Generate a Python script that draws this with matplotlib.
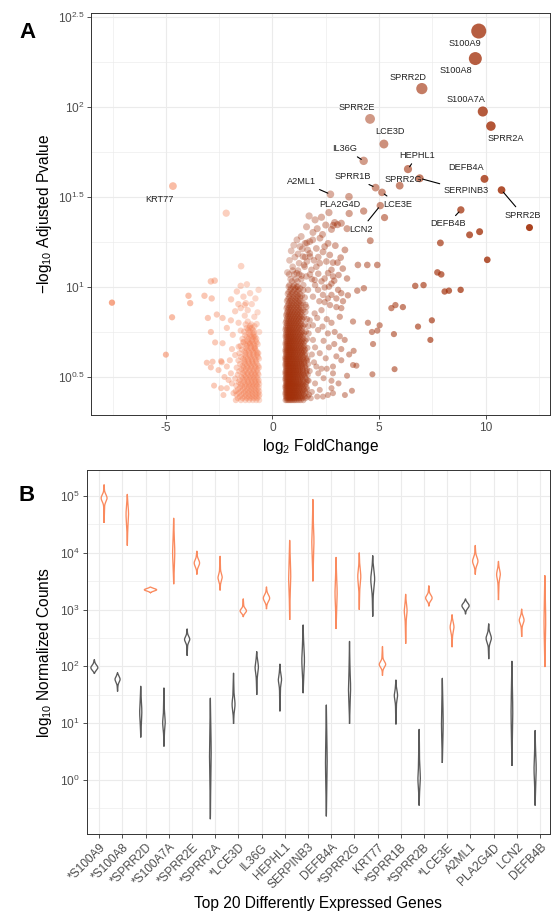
import numpy as np
import matplotlib
matplotlib.use("Agg")
import matplotlib.pyplot as plt
from matplotlib.ticker import FixedLocator, NullFormatter
from matplotlib.colors import to_rgb

plt.rcParams['font.family'] = ['Liberation Sans', 'DejaVu Sans']
plt.rcParams['mathtext.fontset'] = 'custom'
plt.rcParams['mathtext.rm'] = 'Liberation Sans'
plt.rcParams['mathtext.it'] = 'Liberation Sans:italic'
plt.rcParams['mathtext.bf'] = 'Liberation Sans:bold'

# ---------------- Panel A data: (log2 fold change, -log10 adjusted p) ----------------
labeled_genes = ["S100A9", "S100A8", "SPRR2D", "S100A7A", "SPRR2A", "SPRR2E", "LCE3D", "IL36G",
                 "HEPHL1", "SPRR2G", "SERPINB3", "DEFB4A", "SPRR2B", "A2ML1", "SPRR1B", "LCE3E",
                 "PLA2G4D", "LCN2", "DEFB4B", "KRT77"]
labeled_lfc = [9.68, 9.52, 7.01, 9.87, 10.25, 4.58, 5.23, 4.28,
               6.36, 5.97, 6.91, 9.95, 10.75, 2.72, 4.84, 5.14,
               3.59, 5.06, 8.84, -4.67]
labeled_nlp = [263, 185, 126, 94, 78, 85.5, 62, 50,
               45, 36.4, 40, 39.7, 34.4, 32.6, 35.5, 33.4,
               31.6, 28.2, 26.7, 36.2]

# sparse up-regulated genes
sparse_up = [(9.25, 19.4), (9.72, 20.2), (12.06, 21.3), (4.59, 18.0), (7.88, 17.5), (10.08, 14.1),
             (4.01, 13.2), (4.45, 13.2), (4.92, 13.2), (7.74, 12.0), (7.92, 11.7), (6.70, 10.1),
             (7.09, 10.2), (8.08, 9.4), (8.28, 9.5), (8.83, 9.6), (3.98, 9.5), (4.29, 9.8),
             (3.54, 8.95), (5.58, 7.6), (5.77, 7.9), (6.12, 7.7), (7.48, 6.5), (6.83, 6.0),
             (7.41, 5.06), (5.70, 5.45), (5.03, 6.1), (4.92, 5.7), (4.67, 5.6), (4.48, 6.3),
             (3.78, 6.4), (4.72, 4.8), (3.81, 4.4), (3.78, 3.67), (3.94, 3.64), (5.73, 3.48),
             (4.69, 3.26), (3.73, 2.64), (2.84, 3.3),
             (2.65, 25.8), (1.72, 24.7), (3.60, 25.5), (4.28, 26.3), (5.26, 24.2), (2.92, 22.7),
             (3.23, 22.5), (2.77, 20.8), (3.50, 21.0), (2.85, 21.9), (3.05, 22.1)]

# moderately dense up-regulated genes
mid_up = [(2.23, 18.6), (2.61, 17.4), (2.06, 16.3), (2.37, 15.6), (2.69, 15.0), (2.84, 13.6),
          (2.53, 13.8), (2.22, 13.5), (2.77, 12.4), (2.61, 11.9), (2.84, 11.4), (2.45, 11.1),
          (2.77, 10.4), (3.08, 9.6), (3.23, 9.2), (2.77, 9.0), (3.00, 8.6), (3.31, 8.3),
          (3.00, 7.7), (3.23, 7.6), (3.16, 6.8), (2.77, 6.3), (2.92, 5.6), (3.16, 5.3),
          (3.39, 5.06), (3.23, 4.5), (3.00, 4.1), (3.23, 3.9), (2.84, 3.6), (2.77, 3.0),
          (2.77, 2.73), (2.84, 2.56), (2.22, 2.67), (2.37, 2.45), (2.06, 3.6), (2.22, 4.27),
          (1.90, 5.06), (2.14, 5.74), (1.75, 6.5), (1.98, 7.1), (1.59, 7.7), (2.30, 7.4),
          (1.90, 8.8), (1.67, 9.6), (2.14, 9.6), (2.37, 9.0), (1.98, 10.9), (1.59, 11.4),
          (2.30, 10.7), (1.83, 12.4), (1.51, 12.9), (2.06, 12.9), (1.43, 14.7), (1.75, 15.3),
          (1.75, 17.8), (1.53, 17.4), (1.29, 16.7), (1.61, 17.5), (1.89, 18.2), (1.53, 14.6),
          (1.76, 14.7), (1.48, 13.2), (1.14, 11.9), (1.37, 11.5), (1.76, 11.7), (1.14, 10.0),
          (1.45, 10.2), (1.70, 3.0), (1.85, 2.6), (2.00, 2.9), (2.15, 3.3), (2.40, 3.1),
          (2.55, 3.5), (2.50, 4.0), (2.65, 4.6), (2.40, 5.0), (2.60, 5.5), (2.35, 6.0),
          (2.55, 6.6), (2.10, 6.7), (1.85, 4.2), (2.00, 4.6), (1.70, 5.5), (1.90, 6.1),
          (2.45, 8.2), (2.70, 7.9), (2.60, 8.6), (2.20, 8.3), (1.80, 2.4), (2.10, 2.45),
          (2.60, 2.5), (1.95, 3.8), (2.30, 3.5), (1.65, 4.0), (1.75, 3.4), (2.90, 4.8),
          (3.50, 3.2), (3.10, 2.9), (3.40, 2.5), (3.60, 4.2),
          (0.70, 12.0), (0.95, 12.9), (1.25, 13.5), (0.80, 14.0), (1.05, 14.6), (1.62, 13.8),
          (0.88, 15.8), (1.20, 15.2), (1.40, 16.2), (1.00, 17.0), (1.65, 16.0), (1.95, 14.0),
          (2.15, 14.6), (2.45, 16.7), (1.35, 19.0), (1.15, 18.2), (1.90, 20.0), (2.35, 19.5),
          (2.10, 21.0), (1.60, 21.5), (2.50, 22.0), (2.00, 23.5), (2.30, 24.3), (1.85, 11.0),
          (2.15, 11.8), (2.00, 10.2), (2.45, 9.9), (2.65, 10.0), (2.90, 10.8), (3.10, 11.6),
          (3.30, 12.6), (3.20, 14.5), (3.50, 11.1), (3.05, 13.6), (3.40, 16.0), (2.95, 16.9)]

# dense up-regulated genes: -log10 padj -> list of log2 fold changes
dense_up = {
    2.34: [0.61, 0.66, 0.72, 0.77, 0.83, 0.88, 0.94, 1.01, 1.07, 1.15, 1.24, 1.33, 1.45],
    2.40: [0.64, 0.69, 0.75, 0.80, 0.86, 0.91, 0.98, 1.04, 1.11, 1.20, 1.29, 1.40, 1.55],
    2.45: [0.63, 0.68, 0.74, 0.80, 0.85, 0.91, 0.97, 1.04, 1.11, 1.19, 1.28, 1.39, 1.52, 1.66],
    2.51: [0.61, 0.67, 0.72, 0.78, 0.83, 0.89, 0.95, 1.02, 1.09, 1.16, 1.25, 1.35, 1.47, 1.72],
    2.57: [0.60, 0.65, 0.70, 0.76, 0.82, 0.87, 0.93, 1.00, 1.06, 1.13, 1.22, 1.31, 1.42, 1.58],
    2.63: [0.63, 0.68, 0.74, 0.79, 0.85, 0.92, 0.99, 1.05, 1.13, 1.21, 1.30, 1.41, 1.55],
    2.69: [0.62, 0.67, 0.73, 0.78, 0.84, 0.90, 0.96, 1.02, 1.09, 1.17, 1.26, 1.36, 1.48, 1.63],
    2.76: [0.60, 0.65, 0.70, 0.76, 0.81, 0.87, 0.93, 1.00, 1.07, 1.14, 1.23, 1.33, 1.44, 1.60],
    2.82: [0.61, 0.66, 0.71, 0.77, 0.83, 0.89, 0.95, 1.03, 1.10, 1.18, 1.27, 1.38, 1.51],
    2.88: [0.64, 0.69, 0.74, 0.80, 0.86, 0.92, 0.99, 1.06, 1.14, 1.22, 1.32, 1.43, 1.57],
    2.95: [0.63, 0.69, 0.75, 0.80, 0.86, 0.92, 0.99, 1.06, 1.14, 1.23, 1.33, 1.46, 1.60],
    3.02: [0.61, 0.67, 0.72, 0.78, 0.84, 0.90, 0.97, 1.04, 1.12, 1.21, 1.31, 1.43, 1.65],
    3.09: [0.60, 0.65, 0.71, 0.77, 0.83, 0.89, 0.96, 1.03, 1.11, 1.20, 1.30, 1.42, 1.57],
    3.16: [0.63, 0.69, 0.75, 0.81, 0.87, 0.94, 1.01, 1.09, 1.18, 1.28, 1.39, 1.53],
    3.24: [0.62, 0.68, 0.74, 0.80, 0.86, 0.93, 1.00, 1.08, 1.16, 1.25, 1.36, 1.49, 1.66],
    3.31: [0.60, 0.65, 0.71, 0.77, 0.83, 0.90, 0.97, 1.04, 1.12, 1.21, 1.31, 1.43, 1.58],
    3.39: [0.61, 0.66, 0.72, 0.78, 0.84, 0.91, 0.98, 1.05, 1.13, 1.22, 1.32, 1.44, 1.59],
    3.47: [0.64, 0.70, 0.76, 0.82, 0.89, 0.96, 1.03, 1.11, 1.20, 1.30, 1.42, 1.62],
    3.55: [0.63, 0.69, 0.75, 0.81, 0.88, 0.95, 1.02, 1.10, 1.19, 1.29, 1.40, 1.54],
    3.63: [0.61, 0.67, 0.73, 0.79, 0.86, 0.93, 1.01, 1.09, 1.18, 1.28, 1.40, 1.55],
    3.72: [0.60, 0.66, 0.72, 0.78, 0.85, 0.92, 0.99, 1.07, 1.16, 1.26, 1.37, 1.50, 1.68],
    3.80: [0.63, 0.69, 0.76, 0.83, 0.90, 0.98, 1.06, 1.15, 1.25, 1.36, 1.50],
    3.89: [0.62, 0.68, 0.74, 0.81, 0.88, 0.96, 1.04, 1.13, 1.23, 1.34, 1.47, 1.62],
    3.98: [0.60, 0.65, 0.71, 0.78, 0.85, 0.92, 1.00, 1.09, 1.18, 1.29, 1.41, 1.58],
    4.07: [0.61, 0.67, 0.73, 0.80, 0.87, 0.94, 1.02, 1.11, 1.21, 1.32, 1.45],
    4.17: [0.64, 0.70, 0.77, 0.84, 0.91, 0.99, 1.08, 1.17, 1.27, 1.39, 1.52],
    4.27: [0.63, 0.70, 0.77, 0.84, 0.91, 0.99, 1.08, 1.18, 1.29, 1.41, 1.56],
    4.37: [0.61, 0.67, 0.74, 0.81, 0.88, 0.96, 1.04, 1.13, 1.24, 1.35, 1.48],
    4.47: [0.61, 0.67, 0.74, 0.81, 0.89, 0.97, 1.06, 1.16, 1.27, 1.39, 1.53],
    4.57: [0.64, 0.71, 0.78, 0.85, 0.93, 1.01, 1.10, 1.21, 1.32, 1.46, 1.64],
    4.68: [0.64, 0.71, 0.78, 0.86, 0.94, 1.03, 1.13, 1.24, 1.36, 1.50],
    4.79: [0.61, 0.68, 0.75, 0.82, 0.90, 0.98, 1.08, 1.18, 1.29, 1.42],
    4.90: [0.62, 0.69, 0.76, 0.84, 0.92, 1.01, 1.11, 1.22, 1.34, 1.48],
    5.01: [0.65, 0.72, 0.80, 0.88, 0.96, 1.05, 1.15, 1.26, 1.39, 1.55],
    5.13: [0.65, 0.73, 0.81, 0.89, 0.98, 1.08, 1.19, 1.31, 1.45, 1.62],
    5.25: [0.62, 0.69, 0.77, 0.85, 0.93, 1.02, 1.12, 1.23, 1.36],
    5.37: [0.62, 0.70, 0.78, 0.87, 0.96, 1.06, 1.17, 1.29, 1.43],
    5.50: [0.64, 0.72, 0.80, 0.89, 0.98, 1.08, 1.20, 1.33, 1.49],
    5.62: [0.66, 0.75, 0.84, 0.93, 1.03, 1.14, 1.26, 1.40, 1.57],
    5.75: [0.61, 0.69, 0.78, 0.87, 0.96, 1.07, 1.18, 1.31],
    5.89: [0.63, 0.72, 0.81, 0.91, 1.01, 1.12, 1.24, 1.38],
    6.03: [0.65, 0.74, 0.83, 0.93, 1.04, 1.16, 1.29, 1.44, 1.68],
    6.17: [0.68, 0.78, 0.88, 0.99, 1.10, 1.22, 1.36, 1.52],
    6.31: [0.62, 0.71, 0.81, 0.91, 1.02, 1.14, 1.27],
    6.46: [0.65, 0.75, 0.86, 0.97, 1.09, 1.21, 1.35],
    6.61: [0.68, 0.78, 0.89, 1.00, 1.12, 1.25, 1.40, 1.62],
    6.76: [0.70, 0.81, 0.93, 1.05, 1.18, 1.32, 1.48],
    6.92: [0.64, 0.74, 0.85, 0.97, 1.10, 1.23, 1.38],
    7.08: [0.67, 0.78, 0.90, 1.03, 1.16, 1.30],
    7.24: [0.70, 0.81, 0.93, 1.06, 1.20, 1.36, 1.55],
    7.41: [0.73, 0.86, 0.99, 1.13, 1.28, 1.45],
    7.59: [0.66, 0.77, 0.90, 1.04, 1.19, 1.35],
    7.76: [0.69, 0.82, 0.96, 1.11, 1.26],
    7.94: [0.74, 0.87, 1.01, 1.16, 1.33, 1.55],
    8.13: [0.77, 0.92, 1.08, 1.24, 1.42],
    8.32: [0.68, 0.83, 0.98, 1.14, 1.31],
    8.51: [0.72, 0.88, 1.05, 1.22],
    8.71: [0.78, 0.95, 1.12, 1.30, 1.52],
    8.91: [0.82, 1.00, 1.19, 1.38],
    9.12: [0.72, 0.90, 1.09, 1.28],
    9.33: [0.76, 0.95, 1.16],
    9.55: [0.84, 1.02, 1.22, 1.45],
    9.77: [0.86, 1.07, 1.30],
    10.0: [0.76, 0.97, 1.19],
    10.2: [0.80, 1.02],
    10.7: [0.92, 1.18],
    11.0: [0.85, 1.08, 1.35],
    11.7: [0.78, 1.02, 1.26],
    12.3: [0.95, 1.20],
}

# dense down-regulated genes
dense_down = {
    2.34: [-1.72, -1.48, -1.27, -1.09, -0.92, -0.76, -0.62],
    2.40: [-1.63, -1.40, -1.20, -1.03, -0.87, -0.71],
    2.45: [-1.53, -1.31, -1.12, -0.95, -0.79, -0.64],
    2.51: [-1.69, -1.44, -1.25, -1.07, -0.91, -0.75, -0.61],
    2.57: [-1.57, -1.34, -1.15, -0.98, -0.82, -0.66],
    2.63: [-1.73, -1.48, -1.27, -1.09, -0.93, -0.77, -0.62],
    2.69: [-1.62, -1.38, -1.19, -1.01, -0.85, -0.69],
    2.76: [-1.52, -1.31, -1.12, -0.95, -0.79, -0.64],
    2.82: [-1.70, -1.43, -1.22, -1.04, -0.88, -0.72],
    2.88: [-1.49, -1.28, -1.10, -0.93, -0.77, -0.62],
    2.95: [-1.59, -1.35, -1.16, -0.99, -0.83, -0.67],
    3.02: [-1.54, -1.31, -1.12, -0.95, -0.79, -0.64],
    3.09: [-1.75, -1.39, -1.20, -1.02, -0.86, -0.70],
    3.16: [-1.46, -1.25, -1.07, -0.90, -0.74],
    3.24: [-1.63, -1.33, -1.14, -0.97, -0.81, -0.65],
    3.31: [-1.38, -1.18, -1.00, -0.84, -0.68],
    3.39: [-1.56, -1.30, -1.10, -0.91, -0.74],
    3.47: [-1.45, -1.24, -1.05, -0.87, -0.70],
    3.55: [-1.68, -1.35, -1.15, -0.97, -0.79, -0.63],
    3.63: [-1.41, -1.20, -1.01, -0.83, -0.66],
    3.72: [-1.52, -1.27, -1.08, -0.90, -0.72],
    3.80: [-1.33, -1.13, -0.95, -0.78],
    3.89: [-1.60, -1.31, -1.12, -0.94, -0.76],
    3.98: [-1.37, -1.16, -0.98, -0.80, -0.63],
    4.07: [-1.48, -1.24, -1.04, -0.86, -0.68],
    4.17: [-1.29, -1.09, -0.91, -0.73],
    4.27: [-1.55, -1.26, -1.06, -0.88, -0.70],
    4.37: [-1.31, -1.11, -0.92, -0.74],
    4.47: [-1.43, -1.18, -0.98, -0.80],
    4.57: [-1.24, -1.04, -0.85],
    4.68: [-1.50, -1.20, -1.00, -0.81],
    4.79: [-1.27, -1.06, -0.86, -0.69],
    4.90: [-1.36, -1.11, -0.92, -0.74],
    5.01: [-1.18, -0.97, -0.79],
    5.13: [-1.41, -1.13, -0.93, -0.75],
    5.25: [-1.20, -0.99, -0.80],
    5.37: [-1.28, -1.04, -0.85],
    5.50: [-1.11, -0.90],
    5.62: [-1.33, -1.06, -0.86],
    5.75: [-1.14, -0.92],
    5.89: [-1.21, -0.97],
    6.03: [-1.05, -0.84],
    6.17: [-1.26, -0.99],
}

sparse_down = [(-1.94, 8.5), (-1.67, 9.4), (-1.36, 8.8), (-1.25, 8.1), (-0.97, 8.0), (-1.49, 7.6),
               (-1.16, 7.4), (-1.95, 6.5), (-1.59, 6.3), (-1.16, 6.4), (-0.74, 6.2), (-2.14, 5.9),
               (-1.86, 5.4), (-1.49, 5.7), (-1.08, 5.9), (-2.38, 3.8), (-2.53, 3.44), (-2.14, 3.6),
               (-2.06, 3.03), (-2.14, 2.73), (-1.83, 2.56), (-1.59, 4.64), (-1.36, 4.94),
               (-1.05, 4.84), (-0.82, 4.55), (-1.75, 4.17), (-0.89, 5.27), (-0.66, 4.27),
               (-1.47, 13.0), (-1.49, 10.1), (-2.17, 25.6), (-2.89, 10.7), (-2.71, 10.8),
               (-3.94, 8.9), (-3.86, 8.1), (-3.19, 8.9), (-2.85, 8.6), (-3.03, 6.7), (-2.61, 7.0),
               (-2.34, 6.7), (-2.89, 5.6), (-2.69, 4.9), (-2.34, 4.85), (-3.08, 3.78),
               (-2.81, 3.83), (-2.89, 3.56), (-2.41, 3.86), (-2.74, 2.82), (-2.41, 2.73),
               (-7.53, 8.15), (-4.71, 6.76), (-5.00, 4.19),
               (-0.70, 7.2), (-0.85, 6.8), (-1.30, 6.9), (-1.75, 7.3), (-0.62, 5.6), (-1.90, 4.5),
               (-2.00, 3.9), (-1.95, 3.3), (-2.25, 3.15), (-1.90, 2.9), (-2.30, 2.5), (-1.30, 7.9),
               (-0.80, 8.6), (-1.05, 9.2), (-1.60, 8.0), (-0.65, 9.6), (-1.20, 10.3)]

# ---------------- Panel B data: violin summaries in log10 normalized counts ----------------
genes_b = ["*S100A9", "*S100A8", "*SPRR2D", "*S100A7A", "*SPRR2E", "*SPRR2A", "*LCE3D", "IL36G",
           "HEPHL1", "SERPINB3", "DEFB4A", "*SPRR2G", "KRT77", "*SPRR1B", "*SPRR2B", "*LCE3E",
           "A2ML1", "PLA2G4D", "LCN2", "DEFB4B"]
# control group (grey): min, max, mode, bulge half-width, bulge spread
ctrl_lo   = [1.88, 1.57, 0.76, 0.60, 2.20, -0.68, 1.00, 1.51, 1.22, 1.54, -0.63, 1.00, 2.89, 0.99, -0.44, 0.31, 2.93, 2.14, 0.26, -0.44]
ctrl_hi   = [2.12, 1.89, 1.65, 1.62, 2.66, 1.44, 1.88, 2.26, 2.04, 2.73, 1.32, 2.44, 3.95, 1.76, 0.89, 1.79, 3.19, 2.75, 2.09, 0.87]
ctrl_mode = [1.97, 1.78, 1.20, 1.00, 2.48, 0.50, 1.32, 2.00, 1.78, 2.10, 0.30, 1.60, 3.55, 1.50, 0.00, 1.00, 3.07, 2.50, 1.20, 0.20]
ctrl_wid  = [0.14, 0.10, 0.03, 0.04, 0.10, 0.02, 0.05, 0.06, 0.06, 0.04, 0.02, 0.03, 0.07, 0.06, 0.04, 0.02, 0.14, 0.10, 0.02, 0.03]
ctrl_sd   = [0.05, 0.05, 0.15, 0.10, 0.05, 0.30, 0.10, 0.10, 0.08, 0.20, 0.30, 0.20, 0.15, 0.08, 0.15, 0.30, 0.05, 0.07, 0.30, 0.20]
# lesion group (orange)
les_lo    = [4.54, 4.14, 3.30, 3.46, 3.63, 3.35, 2.88, 3.02, 2.83, 3.51, 2.67, 3.01, 1.85, 2.41, 3.07, 2.35, 3.63, 3.18, 2.53, 2.00]
les_hi    = [5.20, 5.03, 3.40, 4.61, 4.03, 3.94, 3.19, 3.40, 4.22, 4.94, 3.92, 4.00, 2.35, 3.27, 3.42, 2.91, 4.13, 3.85, 3.01, 3.60]
les_mode  = [4.97, 4.70, 3.35, 4.00, 3.82, 3.56, 2.97, 3.20, 3.60, 4.20, 3.30, 3.59, 2.03, 3.00, 3.20, 2.70, 3.85, 3.63, 2.82, 2.80]
les_wid   = [0.12, 0.04, 0.25, 0.03, 0.10, 0.08, 0.14, 0.12, 0.03, 0.03, 0.03, 0.05, 0.13, 0.05, 0.13, 0.07, 0.10, 0.07, 0.09, 0.02]
les_sd    = [0.06, 0.15, 0.025, 0.20, 0.06, 0.06, 0.04, 0.06, 0.20, 0.20, 0.20, 0.12, 0.05, 0.10, 0.05, 0.08, 0.07, 0.08, 0.06, 0.30]

# ---------------- styling ----------------
POS_BASE = to_rgb("#A2300A")
NEG_BASE = to_rgb("#F47A4C")
GRID = "#EBEBEB"
BORDER = "#333333"
TICKTXT = "#4D4D4D"
CTRL_COL = "#5A5A5A"
LES_COL = "#FA8A5E"
TICK_FS = 8.6
TITLE_FS = 11.2

W, H = 551, 915
fig = plt.figure(figsize=(W / 100, H / 100), dpi=100)


def px_axes(left, top, right, bottom):
    return fig.add_axes([left / W, 1 - bottom / H, (right - left) / W, (bottom - top) / H])


def style_axes(ax):
    for s in ax.spines.values():
        s.set_color(BORDER)
        s.set_linewidth(0.7)
    ax.tick_params(which='major', length=3, width=0.6, color=BORDER, labelcolor=TICKTXT,
                   labelsize=TICK_FS, pad=2)
    ax.tick_params(which='minor', length=0)
    ax.grid(True, which='major', color=GRID, lw=0.8)
    ax.grid(True, which='minor', color=GRID, lw=0.45)
    ax.set_axisbelow(True)


def pt_rgba(x):
    x = np.asarray(x, float)
    alpha = np.clip(0.24 + 0.056 * np.abs(x), 0, 0.95)
    base = np.where(x[:, None] > 0, np.array(POS_BASE)[None, :], np.array(NEG_BASE)[None, :])
    return np.column_stack([base, alpha])


def pt_size(y):
    d_px = np.sqrt(34 + 0.73 * np.asarray(y, float))
    return (d_px * 0.72) ** 2


# ---------------- Panel A ----------------
axA = px_axes(91.3, 12.7, 549.5, 415)
style_axes(axA)
axA.set_yscale('log')


def scatter_pairs(pairs):
    xs = np.array([p[0] for p in pairs])
    ys = np.array([p[1] for p in pairs])
    axA.scatter(xs, ys, s=pt_size(ys), c=pt_rgba(xs), linewidths=0)


def scatter_rows(rows):
    pairs = [(x, y) for y, xl in rows.items() for x in xl]
    scatter_pairs(pairs)


scatter_rows(dense_down)
scatter_pairs(sparse_down)
scatter_rows(dense_up)
scatter_pairs(mid_up)
scatter_pairs(sparse_up)
scatter_pairs(list(zip(labeled_lfc, labeled_nlp)))

# label placement (offset in pixels from the point) and whether a leader line is drawn
label_offsets = {
    "S100A9": (-14, -12.6, False), "S100A8": (-19, -12, False), "SPRR2D": (-14, 11.4, False),
    "S100A7A": (-16.6, 11.7, False), "SPRR2A": (14.7, -12.3, False), "SPRR2E": (-13.6, 11.3, False),
    "LCE3D": (5.7, 12.3, False), "IL36G": (-19, 12, True), "HEPHL1": (9.4, 13.7, True),
    "SPRR2G": (3.3, 6.4, False), "SERPINB3": (46.7, -12.7, True), "DEFB4A": (-18.3, 11.7, False),
    "SPRR2B": (21.3, -25, True), "A2ML1": (-29, 12.6, True), "SPRR1B": (-23.3, 11, True),
    "LCE3E": (16, -11.7, True), "PLA2G4D": (-9.3, -7.3, False), "LCN2": (-19, -23.6, True),
    "DEFB4B": (-13, -14, True), "KRT77": (-13.3, -13, False),
}
for g, x, y in zip(labeled_genes, labeled_lfc, labeled_nlp):
    dx, dy, line = label_offsets[g]
    kw = {}
    if line:
        kw['arrowprops'] = dict(arrowstyle='-', color='black', lw=0.8, shrinkA=1, shrinkB=2)
    axA.annotate(g, xy=(x, y), xytext=(dx, dy), textcoords='offset pixels',
                 ha='center', va='center', fontsize=6.6, color='#222222', **kw)

axA.set_xlim(-8.5, 13.0)
axA.set_ylim(10 ** 0.287, 10 ** 2.522)
axA.xaxis.set_major_locator(FixedLocator([-5, 0, 5, 10]))
axA.set_xticklabels(['-5', '0', '5', '10'])
axA.xaxis.set_minor_locator(FixedLocator([-7.5, -2.5, 2.5, 7.5, 12.5]))
yt = [0.5, 1.0, 1.5, 2.0, 2.5]
axA.yaxis.set_major_locator(FixedLocator([10 ** v for v in yt]))
axA.set_yticklabels([r'$10^{0.5}$', r'$10^{1}$', r'$10^{1.5}$', r'$10^{2}$', r'$10^{2.5}$'])
axA.yaxis.set_minor_locator(FixedLocator([10 ** v for v in [0.25, 0.75, 1.25, 1.75, 2.25]]))
axA.yaxis.set_minor_formatter(NullFormatter())
axA.set_xlabel(r'log$_{2}$ FoldChange', fontsize=TITLE_FS, labelpad=2)
axA.set_ylabel(r'$-$log$_{10}$ Adjusted Pvalue', fontsize=TITLE_FS, labelpad=3)

# ---------------- Panel B ----------------
axB = px_axes(86.7, 470, 549.5, 834.3)
style_axes(axB)
axB.set_yscale('log')


def draw_violin(ax, pos, lo, hi, mode, wid, sd, color):
    t = np.linspace(lo, hi, 240)
    u = (t - lo) / (hi - lo)
    taper = np.sin(np.pi * u) ** 0.6
    w = (0.016 + wid * np.exp(-0.5 * ((t - mode) / sd) ** 2)) * taper
    xs = np.concatenate([pos + w, (pos - w)[::-1], [pos + w[0]]])
    ts = np.concatenate([t, t[::-1], [t[0]]])
    ax.plot(xs, 10 ** ts, color=color, lw=0.95, solid_joinstyle='round')


dodge = 0.21
for i in range(len(genes_b)):
    p = i + 1
    draw_violin(axB, p - dodge, ctrl_lo[i], ctrl_hi[i], ctrl_mode[i], ctrl_wid[i], ctrl_sd[i], CTRL_COL)
    draw_violin(axB, p + dodge, les_lo[i], les_hi[i], les_mode[i], les_wid[i], les_sd[i], LES_COL)

axB.set_xlim(0.46, 20.41)
axB.set_ylim(10 ** -0.958, 10 ** 5.46)
axB.xaxis.set_major_locator(FixedLocator(list(range(1, len(genes_b) + 1))))
axB.set_xticklabels(genes_b, rotation=45, ha='right', va='top', rotation_mode='anchor',
                    fontsize=TICK_FS)
axB.yaxis.set_major_locator(FixedLocator([10.0 ** k for k in range(0, 6)]))
axB.set_yticklabels([r'$10^{%d}$' % k for k in range(0, 6)])
axB.yaxis.set_minor_locator(FixedLocator([10 ** (k + 0.5) for k in range(-1, 5)]))
axB.yaxis.set_minor_formatter(NullFormatter())
axB.set_xlabel('Top 20 Differently Expressed Genes', fontsize=TITLE_FS, labelpad=3)
axB.set_ylabel(r'log$_{10}$ Normalized Counts', fontsize=TITLE_FS, labelpad=4)

fig.text(27 / W, 1 - 32 / H, 'A', fontsize=16, fontweight='bold', ha='center', va='center')
fig.text(27 / W, 1 - 495 / H, 'B', fontsize=16, fontweight='bold', ha='center', va='center')

fig.savefig('out.png', dpi=100)
